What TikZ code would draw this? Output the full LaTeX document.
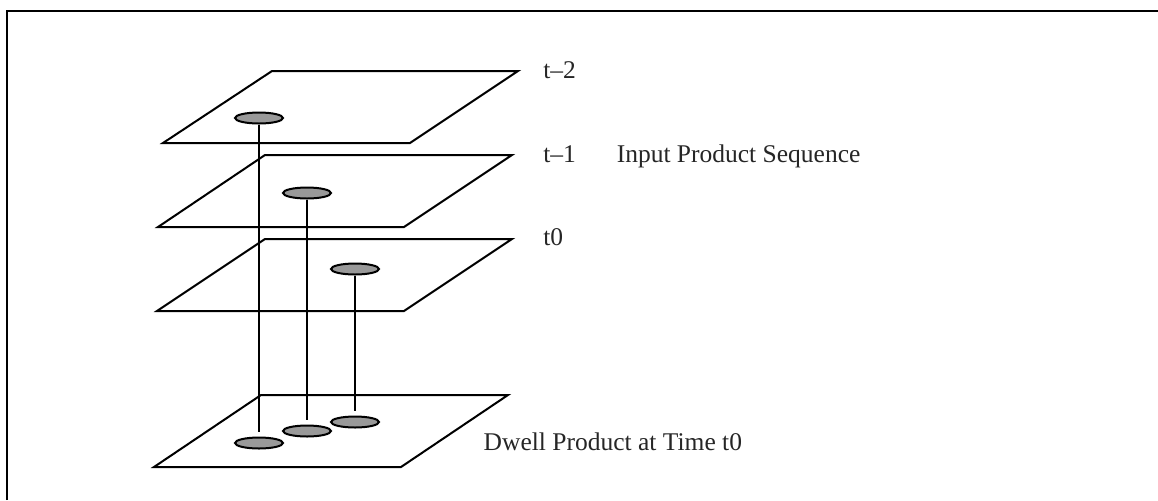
\documentclass[tikz,border=0pt]{standalone}
\usepackage{fontspec}
\setmainfont{Liberation Serif}
\usepackage{tikz}
\usetikzlibrary{positioning, shapes.geometric}
\tikzstyle{plane} = [draw, line width=1pt, line join=miter]
\tikzstyle{spot} = [ellipse, draw, fill=gray!80, line width=1pt, minimum width=24pt, minimum height=5.5pt, inner sep=0pt]
\tikzstyle{link} = [line width=1pt, shorten >=2.5pt]

\begin{document}
\begin{tikzpicture}[
    x=0.5pt, y=-0.5pt,
    tag/.style={font=\fontsize{12.75}{15}\selectfont, text=black!85, inner sep=0pt, anchor=base west}
]
    \useasboundingbox (0,0) rectangle (1158,500);

    % Open frame (top and left edges)
    \draw[line width=1pt] (7,500) -- (7,10.7) -- (1158,10.7);

    % Stacked planes
    \draw[plane] (272,71) -- (518,71) -- (410,143) -- (163,143) -- cycle;
    \draw[plane] (265,155) -- (512,155) -- (404,227) -- (158,227) -- cycle;
    \draw[plane] (265,239) -- (512,239) -- (404,311) -- (157,311) -- cycle;
    \draw[plane] (261,395) -- (508,395) -- (401,467) -- (154,467) -- cycle;

    % Products on each input plane
    \node[spot] (top2) at (259,118) {};
    \node[spot] (top1) at (307,193) {};
    \node[spot] (top0) at (355,269) {};

    % Products on the dwell plane
    \node[spot] (bot2) at (259,443) {};
    \node[spot] (bot1) at (307,431) {};
    \node[spot] (bot0) at (355,422) {};

    % Vertical links
    \draw[link] (top2) -- (bot2);
    \draw[link] (top1) -- (bot1);
    \draw[link] (top0) -- (bot0);

    % Labels
    \node[tag] (tm2) at (543,78.3) {t--2};
    \node[tag] (tm1) at (543,162.7) {t--1};
    \node[tag, base right=20pt of tm1] (seq) {Input Product Sequence};
    \node[tag] (tzero) at (543,245) {t0};
    \node[tag] (dwell) at (483.3,450.7) {Dwell Product at Time t0};

\end{tikzpicture}
\end{document}
